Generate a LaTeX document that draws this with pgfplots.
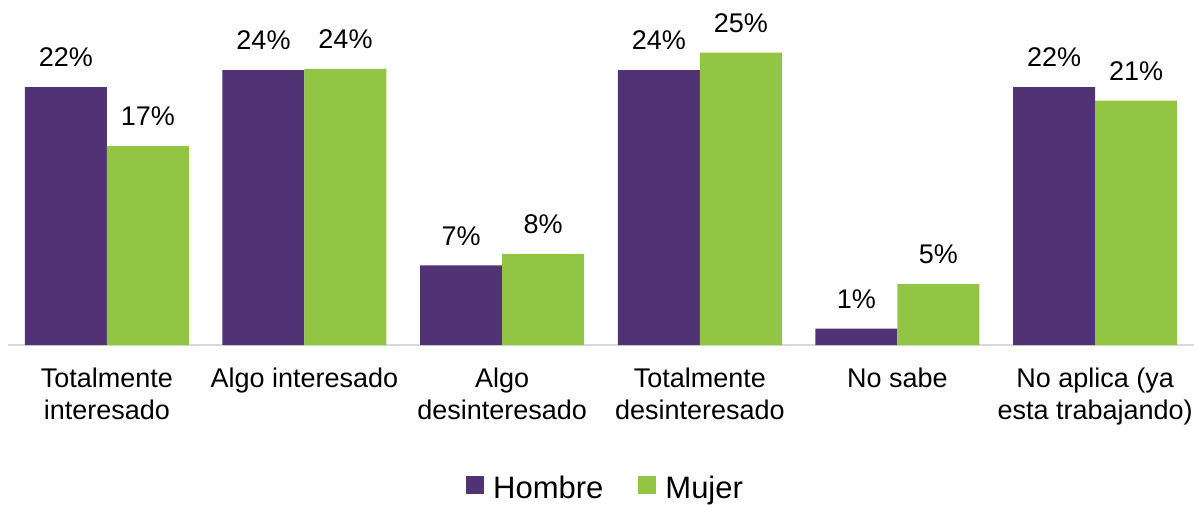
\documentclass[border=0pt]{standalone}
\usepackage{pgfplots}
\pgfplotsset{compat=1.18}
\usepackage{fontspec}
\setmainfont{Liberation Sans}
\definecolor{hombre}{RGB}{80,50,117}
\definecolor{mujer}{RGB}{146,197,67}
\definecolor{baseline}{RGB}{217,217,217}
\begin{document}
\begin{tikzpicture}
\path[use as bounding box] (0,0) rectangle (1194pt,504pt);
\begin{axis}[
  at={(8pt,159pt)}, anchor=south west,
  scale only axis, width=1186pt, height=345pt,
  xmin=-0.5, xmax=5.5, ymin=0, ymax=29.5,
  ybar=0pt, bar width=82pt,
  axis x line*=bottom, axis y line=none,
  x axis line style={draw=baseline, line width=2pt, -},
  xtick=data, major tick length=0pt,
  xticklabels={{Totalmente\\interesado},{Algo interesado},{Algo\\desinteresado},{Totalmente\\desinteresado},{No sabe},{No aplica (ya\\esta trabajando)}},
  xticklabel style={align=center, font=\fontsize{27}{32}\selectfont, inner sep=0pt, yshift=-23pt, anchor=north},
  point meta=explicit symbolic,
  nodes near coords,
  every node near coord/.append style={font=\fontsize{27}{32}\selectfont, text=black, anchor=south, inner sep=0pt, yshift=20pt},
  legend columns=2,
  legend style={at={(0.503,-0.414)}, anchor=center, draw=none, fill=none,
    font=\fontsize{31}{36}\selectfont, column sep=9pt,
    nodes={inner sep=0pt},
    /tikz/every even column/.append style={column sep=35pt}},
  legend image code/.code={\fill[#1] (0pt,-6pt) rectangle (18pt,12pt);},
  clip=false,
]
\addplot[fill=hombre, draw=none] table[x=x, y=y, meta=l] {
x y l
0 22.05 22\%
1 23.5 24\%
2 6.8 7\%
3 23.5 24\%
4 1.4 1\%
5 22.05 22\%
};
\addplot[fill=mujer, draw=none] table[x=x, y=y, meta=l] {
x y l
0 17.0 17\%
1 23.6 24\%
2 7.8 8\%
3 25.0 25\%
4 5.2 5\%
5 20.9 21\%
};
\legend{Hombre, Mujer}
\end{axis}
\end{tikzpicture}
\end{document}
